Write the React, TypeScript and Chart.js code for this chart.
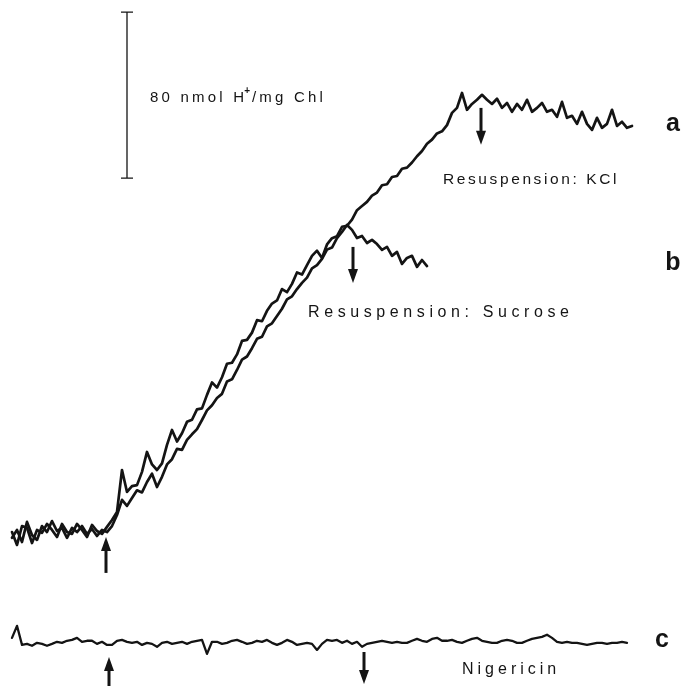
import { useEffect, useRef } from "react";
import { Chart, registerables } from "chart.js";

Chart.register(...registerables);

// Recorder traces: proton uptake (nmol H+/mg Chl) sampled every 2 s.
const TIME_STEP_S = 2;

// Trace a: light-driven uptake, then resuspension in KCl.
const TRACE_A = [
  1.4, -4.8, 4.3, 3.4, -3.9, 2.4, 1.0, 5.3, 2.4, -1.0,
  5.3, 1.4, 0.5, 5.3, 2.4, -1.0, 4.8, 1.9, 0.5, 3.9,
  7.2, 11.1, 31.3, 20.7, 23.5, 24.0, 30.4, 40.0, 34.0, 31.3,
  34.5, 43.4, 50.6, 45.0, 49.0, 54.5, 55.5, 60.5, 61.0, 67.5,
  73.5, 71.0, 76.0, 82.5, 83.0, 87.0, 93.5, 94.0, 97.5, 103.5,
  103.0, 108.0, 111.5, 113.0, 118.5, 117.0, 121.0, 126.5, 125.5, 130.0,
  134.5, 137.0, 133.5, 140.0, 143.0, 144.0, 148.5, 149.0, 152.0, 156.5,
  158.5, 160.5, 163.5, 165.0, 168.5, 169.0, 172.5, 173.0, 176.5, 177.0,
  179.5, 182.5, 185.0, 188.5, 190.5, 193.5, 194.5, 197.5, 203.4, 205.8,
  213.0, 204.9, 207.7, 209.7, 212.1, 209.7, 207.7, 210.2, 205.8, 208.2,
  203.9, 207.7, 204.9, 209.7, 203.9, 205.8, 208.2, 203.9, 204.9, 201.5,
  208.7, 201.0, 202.0, 198.1, 203.9, 198.1, 195.2, 201.0, 196.2, 198.1,
  204.9, 197.1, 199.1, 196.2, 197.1,
];

// Trace b: same illumination, then resuspension in sucrose.
const TRACE_B = [
  -1.4, 2.4, -3.4, 6.3, 0.0, -2.4, 4.3, 1.4, 6.7, 1.9,
  3.4, -1.4, 3.4, 1.4, 4.3, 0.5, 2.9, -0.5, 2.4, 1.4,
  4.3, 9.6, 16.9, 14.0, 17.8, 21.5, 20.5, 25.5, 29.5, 23.1,
  28.0, 34.0, 36.5, 41.5, 41.0, 45.8, 48.5, 51.0, 55.4, 60.0,
  62.5, 66.0, 68.0, 74.0, 75.0, 79.5, 84.5, 86.0, 90.0, 94.5,
  95.5, 100.5, 102.0, 105.5, 109.0, 113.5, 115.0, 118.5, 121.5, 124.0,
  128.5, 130.0, 133.0, 137.5, 138.5, 143.0, 146.0, 149.4, 147.0, 143.1,
  144.1, 140.7, 142.2, 140.2, 137.4, 138.8, 134.5, 136.4, 130.6, 133.5,
  134.5, 129.2, 132.5, 129.6,
];

// Trace c: with nigericin, relative to its own baseline.
const TRACE_C = [
  2.4, 8.2, -1.0, -0.5, -1.4, 0.0, -0.5, -1.4, -0.5, 0.5,
  0.0, 1.0, 1.4, 2.4, 0.5, 1.0, 1.0, -0.5, 0.5, -1.0,
  -1.0, 1.0, 1.4, 0.5, 0.0, 0.5, -1.0, 0.0, -0.5, -1.9,
  0.0, 0.5, -0.5, 0.0, 0.5, -0.5, 0.5, 1.0, 1.4, -5.3,
  0.5, 0.5, -0.5, 0.0, 1.0, 1.4, 0.5, -0.5, 0.0, 1.0,
  0.5, 1.4, 0.0, -1.0, 0.0, 1.4, 0.5, -1.0, -0.5, 0.0,
  -0.5, -3.4, -0.5, 1.4, 1.0, 1.4, 0.0, 1.0, -0.5, 0.5,
  -1.9, -0.5, 0.0, 0.5, 1.0, 0.5, 0.0, 0.5, 0.0, 0.0,
  1.0, 1.9, 1.0, 0.5, 1.9, 2.4, 1.0, 1.0, 1.4, 0.5,
  0.0, 1.0, 1.9, 2.4, 1.0, 0.5, 0.0, 0.0, 1.0, 1.4,
  1.0, 0.0, 0.0, 1.0, 1.9, 2.4, 2.9, 3.9, 2.4, 0.5,
  0.0, 0.5, 0.0, 0.0, -0.5, -1.0, -0.5, 0.0, 0.0, -0.5,
  0.0, 0.0, 0.5, 0.0,
];

// Event times (s): light on, resuspension of a and b.
const LIGHT_ON_AB_S = 37.6;
const RESUSPEND_B_S = 136.4;
const RESUSPEND_A_S = 187.6;
const LIGHT_ON_C_S = 38.8;
const OFF_C_S = 140.8;

// Calibration bar value (nmol H+/mg Chl).
const SCALE_BAR_NMOL = 80;

// Layout of the figure in data units.
const X_RANGE = { min: -4.8, max: 268.8 };
const Y_RANGE = { min: -72.8, max: 257.8 };
const TRACE_C_OFFSET = -52.0;
const SCALE_BAR_AT = { t: 46, bottom: 172 };

const INK = "#141414";
const FONT = '"Liberation Sans", Arial, Helvetica, sans-serif';

const toPoints = (values: number[], offset = 0) =>
  values.map((v, i) => ({ x: i * TIME_STEP_S, y: v + offset }));

function drawArrow(ctx: CanvasRenderingContext2D, x: number, yTail: number, yTip: number) {
  const dir = yTip > yTail ? 1 : -1;
  const headLen = 14;
  const headHalf = 5;
  ctx.save();
  ctx.strokeStyle = INK;
  ctx.fillStyle = INK;
  ctx.lineWidth = 3;
  ctx.beginPath();
  ctx.moveTo(x, yTail);
  ctx.lineTo(x, yTip - dir * (headLen - 2));
  ctx.stroke();
  ctx.beginPath();
  ctx.moveTo(x, yTip);
  ctx.lineTo(x - headHalf, yTip - dir * headLen);
  ctx.lineTo(x + headHalf, yTip - dir * headLen);
  ctx.closePath();
  ctx.fill();
  ctx.restore();
}

function spacedText(ctx: CanvasRenderingContext2D, text: string, x: number, y: number, size: number, spacing: number, weight = "normal") {
  ctx.save();
  ctx.font = `${weight} ${size}px ${FONT}`;
  (ctx as any).letterSpacing = `${spacing}px`;
  ctx.fillStyle = INK;
  ctx.textBaseline = "middle";
  ctx.textAlign = "left";
  ctx.fillText(text, x, y);
  const w = ctx.measureText(text).width;
  ctx.restore();
  return w;
}

const figureMarks = {
  id: "figureMarks",
  afterDatasetsDraw(chart: any) {
    const { ctx } = chart;
    const xs = chart.scales.x;
    const ys = chart.scales.y;
    const px = (t: number) => xs.getPixelForValue(t);
    const py = (v: number) => ys.getPixelForValue(v);

    // Calibration bar with end caps
    const bx = px(SCALE_BAR_AT.t);
    const b0 = py(SCALE_BAR_AT.bottom);
    const b1 = py(SCALE_BAR_AT.bottom + SCALE_BAR_NMOL);
    ctx.save();
    ctx.strokeStyle = INK;
    ctx.lineWidth = 1.3;
    ctx.beginPath();
    ctx.moveTo(bx, b0);
    ctx.lineTo(bx, b1);
    ctx.moveTo(bx - 6, b0);
    ctx.lineTo(bx + 6, b0);
    ctx.moveTo(bx - 6, b1);
    ctx.lineTo(bx + 6, b1);
    ctx.stroke();
    ctx.restore();

    // Calibration label: 80 nmol H+/mg Chl
    const lx = px(55.2);
    const ly = py(210.6);
    const w = spacedText(ctx, `${SCALE_BAR_NMOL} nmol H`, lx, ly, 15, 3.2);
    const w2 = spacedText(ctx, "+", lx + w - 3, ly - 7, 10, 0, "bold");
    spacedText(ctx, "/mg Chl", lx + w + w2 - 1, ly, 15, 3.2);

    // Event arrows
    drawArrow(ctx, px(LIGHT_ON_AB_S), py(-18.3), py(-1.0));
    drawArrow(ctx, px(RESUSPEND_B_S), py(138.8), py(121.4));
    drawArrow(ctx, px(RESUSPEND_A_S), py(205.8), py(188.0));
    drawArrow(ctx, px(LIGHT_ON_C_S), py(-72.8), py(-58.8));
    drawArrow(ctx, px(OFF_C_S), py(-56.4), py(-71.8));

    // Annotations
    spacedText(ctx, "Resuspension: KCl", px(172.4), py(171.1), 15.5, 2.6);
    spacedText(ctx, "Resuspension: Sucrose", px(118.4), py(107.0), 16, 4.6);
    spacedText(ctx, "Nigericin", px(180.0), py(-65.1), 16, 4.0);

    // Trace labels
    ctx.save();
    ctx.font = `bold 25px ${FONT}`;
    ctx.fillStyle = INK;
    ctx.textAlign = "center";
    ctx.textBaseline = "middle";
    ctx.fillText("a", px(264.4), py(198.1));
    ctx.fillText("b", px(264.4), py(131.0));
    ctx.fillText("c", px(260.0), py(-50.6));
    ctx.restore();
  },
};

export default function App() {
  const canvasRef = useRef<HTMLCanvasElement | null>(null);

  useEffect(() => {
    const canvas = canvasRef.current;
    if (!canvas) return;
    const traceStyle = {
      borderColor: INK,
      pointRadius: 0,
      tension: 0,
      fill: false,
      borderJoinStyle: "round" as const,
      borderCapStyle: "round" as const,
    };
    const chart = new Chart(canvas, {
      type: "line",
      data: {
        datasets: [
          { label: "a", data: toPoints(TRACE_A), borderWidth: 2.7, ...traceStyle },
          { label: "b", data: toPoints(TRACE_B), borderWidth: 2.7, ...traceStyle },
          { label: "c", data: toPoints(TRACE_C, TRACE_C_OFFSET), borderWidth: 2.3, ...traceStyle },
        ],
      },
      options: {
        responsive: false,
        maintainAspectRatio: false,
        devicePixelRatio: 1,
        animation: false,
        layout: { padding: 0 },
        parsing: false as any,
        scales: {
          x: { type: "linear", min: X_RANGE.min, max: X_RANGE.max, display: false },
          y: { type: "linear", min: Y_RANGE.min, max: Y_RANGE.max, display: false },
        },
        plugins: { legend: { display: false }, tooltip: { enabled: false } },
      },
      plugins: [figureMarks],
    });
    return () => chart.destroy();
  }, []);

  return (
    <div style={{ position: "fixed", left: 0, top: 0, width: 684, height: 686, background: "#fff" }}>
      <canvas ref={canvasRef} width={684} height={686} style={{ display: "block" }} />
    </div>
  );
}
